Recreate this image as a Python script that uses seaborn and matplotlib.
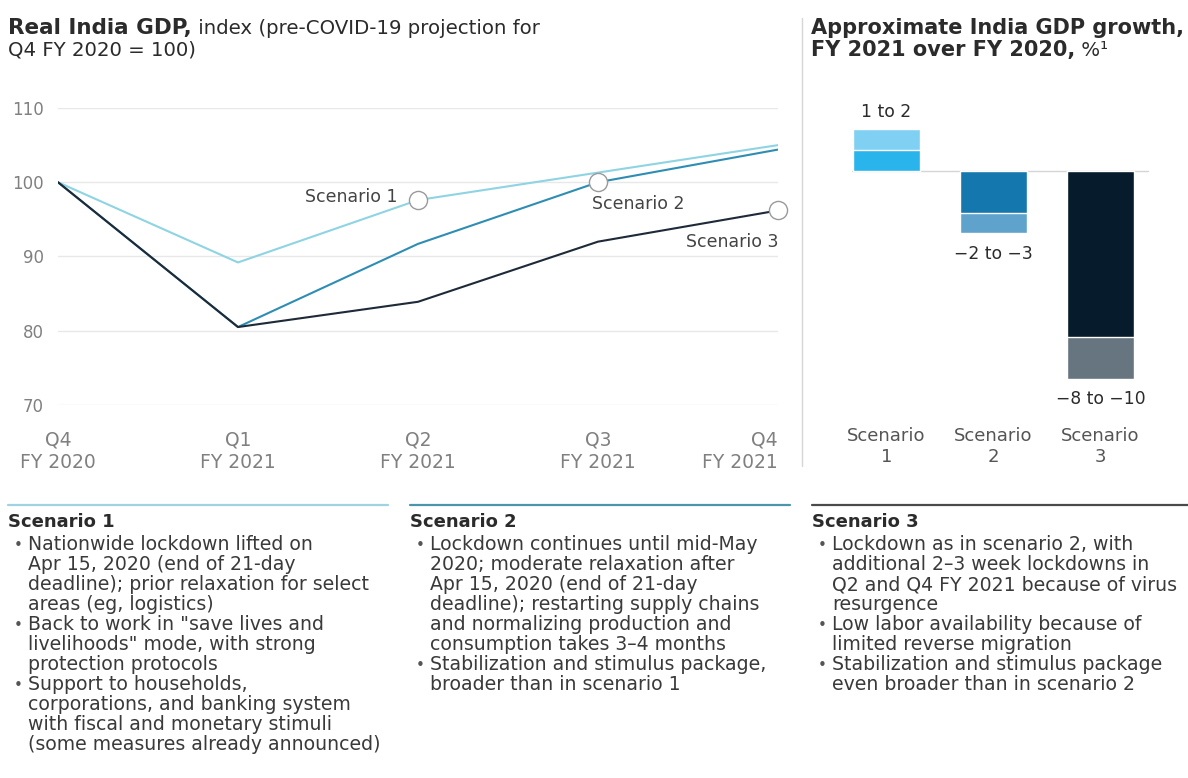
import numpy as np
import pandas as pd
import matplotlib
matplotlib.use("Agg")
import matplotlib.pyplot as plt
from matplotlib.lines import Line2D
import seaborn as sns

# ---------------- data ----------------
quarters = ["Q4\nFY 2020", "Q1\nFY 2021", "Q2\nFY 2021", "Q3\nFY 2021", "Q4\nFY 2021"]
scenario_1 = [100, 89.2, 97.6, 101.3, 105.0]
scenario_2 = [100, 80.5, 91.7, 100.0, 104.4]
scenario_3 = [100, 80.5, 83.9, 92.0, 96.2]
y_ticks = [70, 80, 90, 100, 110]

bar_labels = ["Scenario\n1", "Scenario\n2", "Scenario\n3"]
growth_low = [1, -2, -8]
growth_high = [2, -3, -10]
growth_text = ["1 to 2", "\u22122 to \u22123", "\u22128 to \u221210"]

col_headers = ["Scenario 1", "Scenario 2", "Scenario 3"]
col_bullets = [
    [["Nationwide lockdown lifted on", "Apr 15, 2020 (end of 21-day",
      "deadline); prior relaxation for select", "areas (eg, logistics)"],
     ["Back to work in \"save lives and", "livelihoods\" mode, with strong",
      "protection protocols"],
     ["Support to households,", "corporations, and banking system",
      "with fiscal and monetary stimuli", "(some measures already announced)"]],
    [["Lockdown continues until mid-May", "2020; moderate relaxation after",
      "Apr 15, 2020 (end of 21-day", "deadline); restarting supply chains",
      "and normalizing production and", "consumption takes 3\u20134 months"],
     ["Stabilization and stimulus package,", "broader than in scenario 1"]],
    [["Lockdown as in scenario 2, with", "additional 2\u20133 week lockdowns in",
      "Q2 and Q4 FY 2021 because of virus", "resurgence"],
     ["Low labor availability because of", "limited reverse migration"],
     ["Stabilization and stimulus package", "even broader than in scenario 2"]],
]

# ---------------- style ----------------
sns.set_theme(style="white")
plt.rcParams['font.family'] = ['DejaVu Sans']

W, H = 1188, 778
fig = plt.figure(figsize=(W / 100, H / 100), dpi=100)
fig.patch.set_facecolor("white")


def fy(py):
    return 1 - py / H


line_colors = {"Scenario 1": "#8fd4e3", "Scenario 2": "#2f8db3", "Scenario 3": "#1e2a38"}
TXT = "#2b2b2b"
TICK = "#808080"

# ---------------- line chart ----------------
ax1 = fig.add_axes([58 / W, fy(405), 720 / W, 297 / H])
rows = []
for name, vals in zip(["Scenario 1", "Scenario 2", "Scenario 3"], [scenario_1, scenario_2, scenario_3]):
    for i, v in enumerate(vals):
        rows.append({"pos": i, "value": v, "scenario": name})
df = pd.DataFrame(rows)
sns.lineplot(data=df, x="pos", y="value", hue="scenario", palette=line_colors,
             linewidth=1.5, legend=False, ax=ax1, zorder=3)
ax1.set_xlim(0, 4)
ax1.set_ylim(70, 110)
ax1.set_yticks(y_ticks)
ax1.set_xticks(range(len(quarters)))
ax1.set_xticklabels(quarters)
ax1.set_xlabel("")
ax1.set_ylabel("")
ax1.grid(axis="y", color="#e8e8e8", linewidth=1)
ax1.grid(axis="x", visible=False)
for s in ax1.spines.values():
    s.set_visible(False)
ax1.tick_params(axis="y", length=0, pad=10, labelsize=12, labelcolor=TICK)
ax1.tick_params(axis="x", direction="inout", length=5, color="#dddddd", width=1,
                pad=16, labelsize=13.5, labelcolor=TICK)
xl = ax1.get_xticklabels()
xl[-1].set_ha("right")
xl[-1].set_multialignment("right")
for t in xl[:-1]:
    t.set_multialignment("center")

# circles marking the labelled points
cx = [2, 3, 4]
cy = [scenario_1[2], scenario_2[3], scenario_3[4]]
ax1.scatter(cx, cy, s=170, facecolors="white", edgecolors="#9a9a9a", linewidths=1,
            zorder=5, clip_on=False)
ax1.annotate("Scenario 1", (cx[0], cy[0]), xytext=(-15, 2), textcoords="offset points",
             ha="right", va="center", fontsize=12.5, color="#444444")
ax1.annotate("Scenario 2", (cx[1], cy[1]), xytext=(-4, -16), textcoords="offset points",
             ha="left", va="center", fontsize=12.5, color="#444444")
ax1.annotate("Scenario 3", (cx[2], cy[2]), xytext=(0, -23), textcoords="offset points",
             ha="right", va="center", fontsize=12.5, color="#444444")

# ---------------- bar chart ----------------
light_pal = ["#7fd0f2", "#5fa3cc", "#667580"]
dark_pal = ["#29b5ec", "#1478ae", "#061b2b"]
ax2 = fig.add_axes([833 / W, fy(420), 321 / W, 320 / H])
sns.barplot(x=bar_labels, y=growth_high, hue=bar_labels, palette=light_pal, width=0.63,
            legend=False, ax=ax2, saturation=1, errorbar=None)
sns.barplot(x=bar_labels, y=growth_low, hue=bar_labels, palette=dark_pal, width=0.63,
            legend=False, ax=ax2, saturation=1, errorbar=None)
ax2.set_xlim(-0.5, 2.5)
ax2.set_ylim(-(420 - 171) / 20.8, (171 - 100) / 20.8)
ax2.axhline(0, xmin=0.06, xmax=0.98, color="#d5d5d5", linewidth=1, zorder=0)
for s in ax2.spines.values():
    s.set_visible(False)
ax2.set_yticks([])
ax2.tick_params(axis="x", length=0, pad=5, labelsize=13, labelcolor="#555555")
ax2.set_xlabel("")
ax2.set_ylabel("")
for i, (hi, txt) in enumerate(zip(growth_high, growth_text)):
    off = 6 if hi > 0 else -8
    ax2.annotate(txt, (i, hi), xytext=(0, off), textcoords="offset points",
                 ha="center", va="bottom" if hi > 0 else "top", fontsize=12.3, color=TXT)

# separator
fig.add_artist(Line2D([802 / W, 802 / W], [fy(18), fy(466)], color="#d6d6d6", linewidth=1))

# ---------------- titles ----------------
fig.canvas.draw()
renderer = fig.canvas.get_renderer()


def runs(x_px, y_px, parts):
    x = x_px
    for text, weight, size in parts:
        t = fig.text(x / W, fy(y_px), text, fontsize=size, fontweight=weight,
                     ha="left", va="baseline", color=TXT)
        bb = t.get_window_extent(renderer)
        x = bb.x1


runs(8, 34, [("Real India GDP,", "bold", 15.5), (" index (pre-COVID-19 projection for", "normal", 14.2)])
runs(8, 56, [("Q4 FY 2020 = 100)", "normal", 14.2)])
runs(811, 34, [("Approximate India GDP growth,", "bold", 15)])
runs(811, 56, [("FY 2021 over FY 2020,", "bold", 15), (" %\u00b9", "normal", 14.2)])

# ---------------- bottom scenario descriptions ----------------
col_x = [8, 410, 812]
col_w = [380, 380, 376]
col_line_colors = ["#9fd3df", "#4b96ad", "#4a4a4a"]
line_h = 20.0
for c in range(3):
    x0 = col_x[c]
    fig.add_artist(Line2D([x0 / W, (x0 + col_w[c]) / W], [fy(505), fy(505)],
                          color=col_line_colors[c], linewidth=1.6))
    fig.text(x0 / W, fy(522), col_headers[c], fontsize=13, fontweight="bold",
             ha="left", va="center", color=TXT)
    y = 545
    for bullet in col_bullets[c]:
        fig.text((x0 + 6) / W, fy(y), "\u2022", fontsize=11, ha="left", va="center", color="#555555")
        for ln in bullet:
            fig.text((x0 + 20) / W, fy(y), ln, fontsize=13.6, ha="left", va="center", color="#3a3a3a")
            y += line_h

fig.savefig("out.png", dpi=100, facecolor="white")
